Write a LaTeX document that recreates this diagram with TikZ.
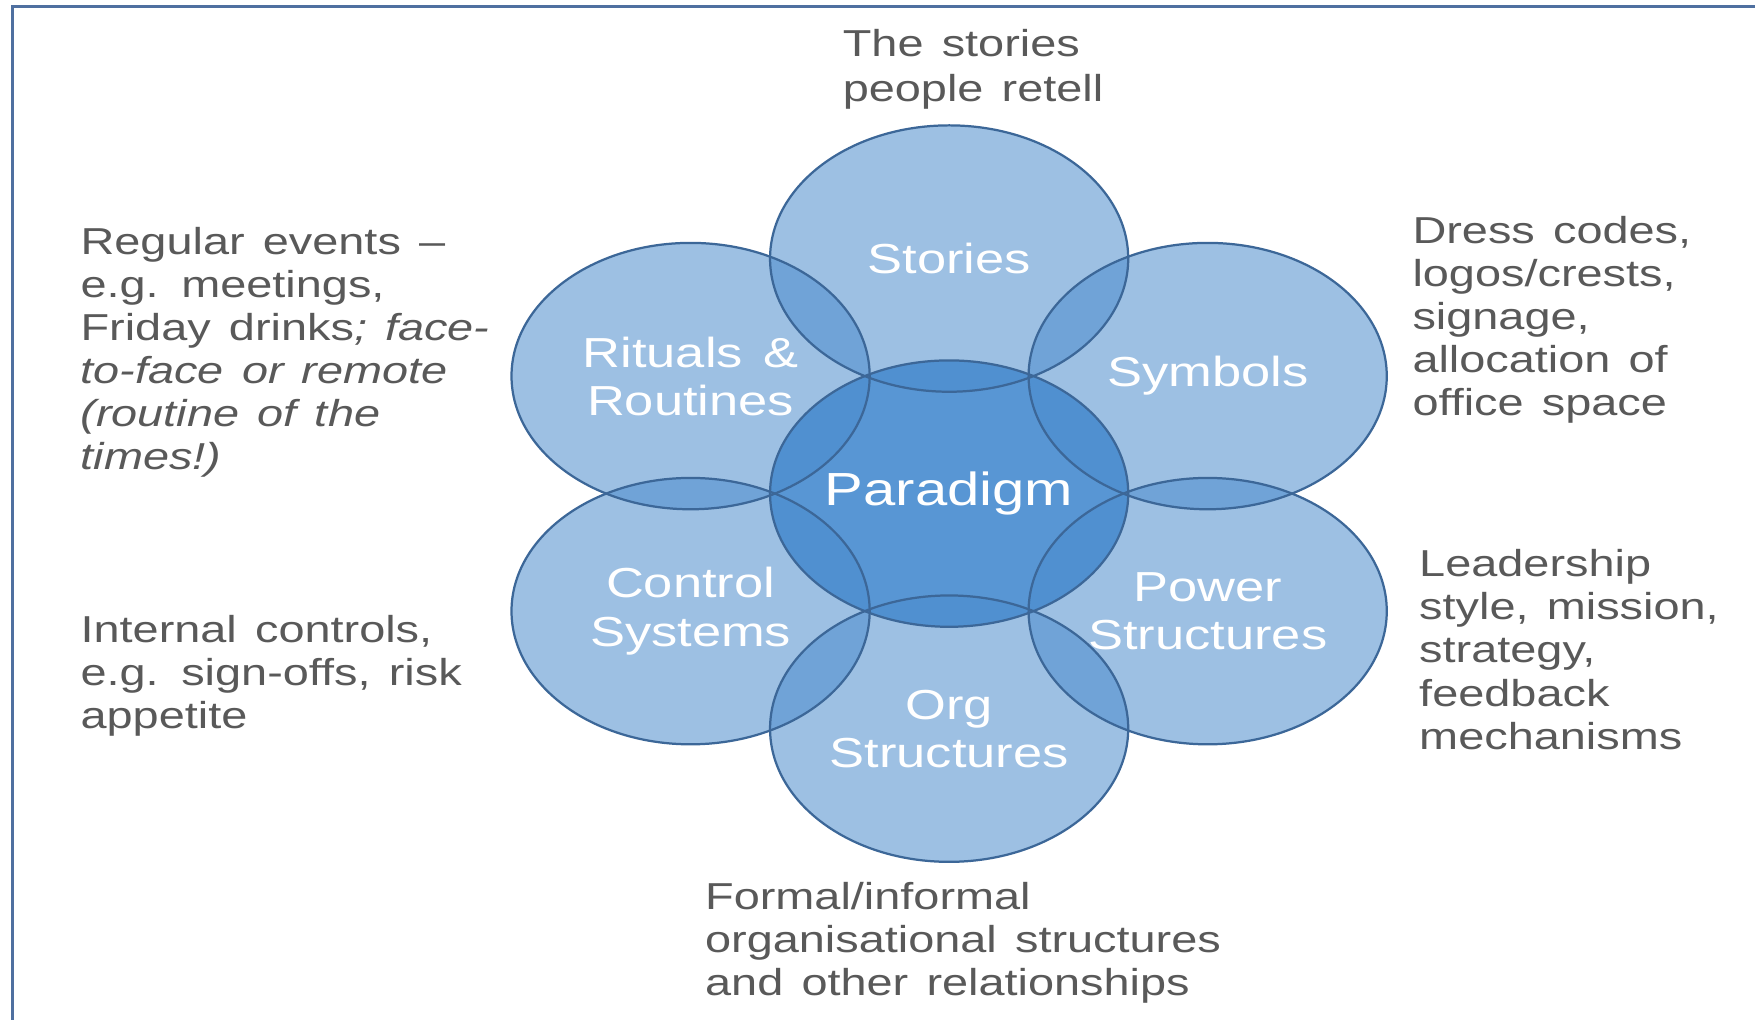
\documentclass[tikz,border=0pt]{standalone}
\usepackage{fontspec}
\setmainfont{Liberation Sans}[FakeStretch=1.25, WordSpace=1.4]
\usetikzlibrary{shapes.geometric}
\definecolor{txtgray}{RGB}{89,89,89}
\definecolor{basefill}{RGB}{75,140,205}
\definecolor{centerfill}{RGB}{88,150,212}
\definecolor{edgeblue}{RGB}{60,103,152}
\definecolor{frameblue}{RGB}{79,112,160}
\begin{document}
\begin{tikzpicture}[x=0.5pt,y=-0.5pt,
  bubble/.style={ellipse, draw=edgeblue, line width=1pt, minimum width=160pt, minimum height=119pt,
    inner sep=0pt, outer sep=0pt, text=white, align=center, font=\fontsize{18.75}{21.5}\selectfont},
  note/.style={anchor=north west, inner sep=0pt, outer sep=0pt, text=txtgray, align=left,
    font=\fontsize{16.75}{19.25}\selectfont},
  outerfill/.style={fill=basefill, fill opacity=0.54},
]
\useasboundingbox (0,0) rectangle (1568,911);
\fill[white] (0,0) rectangle (1568,911);
\draw[frameblue, line width=1.5pt] (11,911) -- (11,6) -- (1568,6);

\coordinate (cP) at (848,441);
\coordinate (cS) at (848,231);
\coordinate (cO) at (848,651);
\coordinate (cR) at (617,336);
\coordinate (cY) at (1079,336);
\coordinate (cC) at (617,546);
\coordinate (cW) at (1079,546);

\fill[centerfill] (cP) ellipse [x radius=160, y radius=119];
\foreach \c in {cS,cR,cY,cC,cW,cO}
  \fill[outerfill] (\c) ellipse [x radius=160, y radius=119];

\node[bubble, font=\fontsize{20.75}{24}\selectfont] (paradigm) at (cP) {Paradigm};
\node[bubble] (stories) at (cS) {Stories};
\node[bubble] (rituals) at (cR) {Rituals \&\\Routines};
\node[bubble] (symbols) at (cY) {Symbols};
\node[bubble] (control) at (cC) {Control\\Systems};
\node[bubble] (power) at (cW) {Power\\Structures};
\node[bubble] (org) at (cO) {Org\\Structures};

\node[note, font=\fontsize{16.75}{20}\selectfont] (storiesnote) at (753,26) {The stories\\people retell};
\node[note] (ritualsnote) at (72,203) {Regular events –\\e.g. meetings,\\Friday drinks\textit{; face-}\\\textit{to-face or remote}\\\textit{(routine of the}\\\textit{times!)}};
\node[note] (controlnote) at (72,550) {Internal controls,\\e.g. sign-offs, risk\\appetite};
\node[note] (symbolsnote) at (1262,193) {Dress codes,\\logos/crests,\\signage,\\allocation of\\office space};
\node[note] (powernote) at (1268,491) {Leadership\\style, mission,\\strategy,\\feedback\\mechanisms};
\node[note] (orgnote) at (630,788) {Formal/informal\\organisational structures\\and other relationships};
\end{tikzpicture}
\end{document}
